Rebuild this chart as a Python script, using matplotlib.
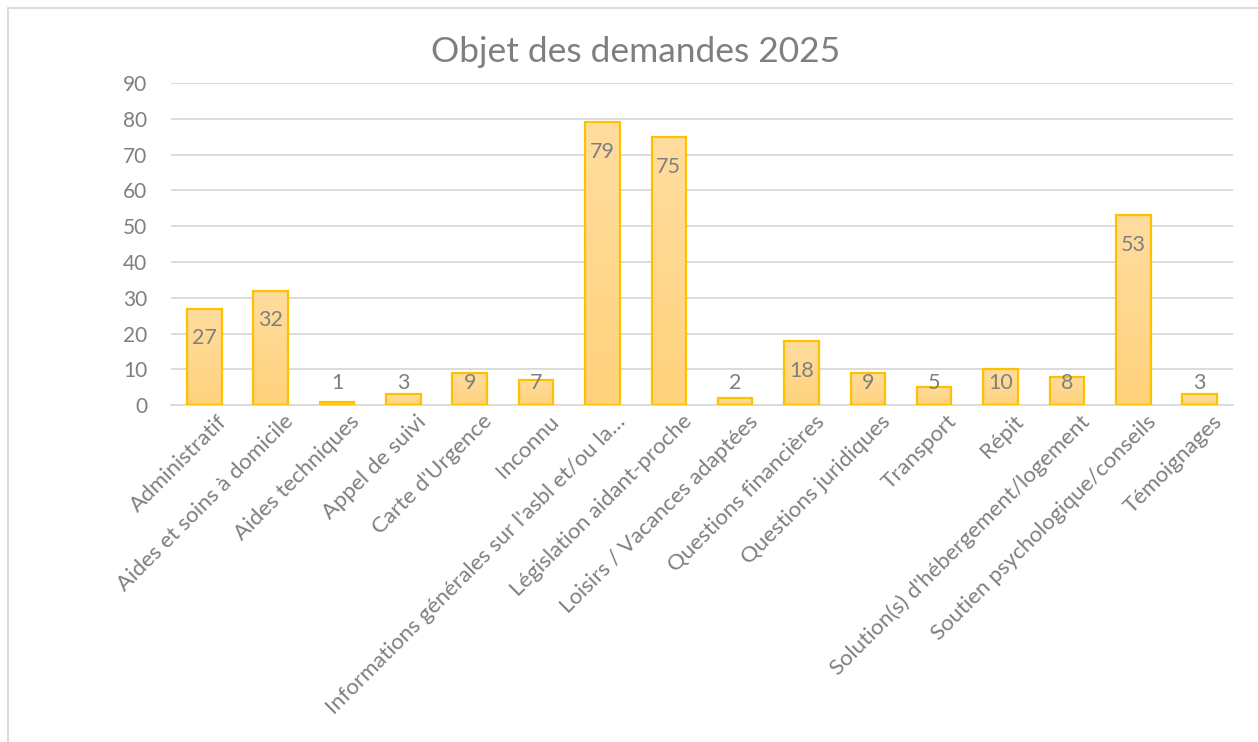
import numpy as np
import matplotlib
matplotlib.use("Agg")
from matplotlib import pyplot as plt
from matplotlib.patches import Rectangle
from matplotlib.colors import LinearSegmentedColormap
import matplotlib.transforms as mtransforms

categories = [
    "Administratif", "Aides et soins à domicile", "Aides techniques",
    "Appel de suivi", "Carte d'Urgence", "Inconnu",
    "Informations générales sur l'asbl et/ou la…", "Législation aidant-proche",
    "Loisirs / Vacances adaptées", "Questions financières",
    "Questions juridiques", "Transport", "Répit",
    "Solution(s) d'hébergement/logement", "Soutien psychologique/conseils",
    "Témoignages",
]
values = [27, 32, 1, 3, 9, 7, 79, 75, 2, 18, 9, 5, 10, 8, 53, 3]
yticks = [0, 10, 20, 30, 40, 50, 60, 70, 80, 90]

plt.rcParams['font.family'] = ['Lato', 'DejaVu Sans']
grey = '#7f7f7f'

fig = plt.figure(figsize=(12.58, 7.42), dpi=100)
ax = fig.add_axes([0.136, 0.454, 0.844, 0.434])

x = np.arange(len(categories))
bars = ax.bar(x, values, width=0.52, color='none', edgecolor='#ffc000',
              linewidth=1.6, zorder=3)

# degradé léger dans chaque barre
cmap = LinearSegmentedColormap.from_list('g', ['#ffd27c', '#ffdd9f'])
grad = np.linspace(0, 1, 100).reshape(-1, 1)
for b in bars:
    im = ax.imshow(grad, cmap=cmap, origin='lower', aspect='auto',
                   extent=[b.get_x(), b.get_x() + b.get_width(), 0, b.get_height()],
                   zorder=2)
    im.set_clip_path(b)

ax.set_xlim(-0.5, len(categories) - 0.5)
ax.set_ylim(0, 90)
ax.set_yticks(yticks)
ax.yaxis.grid(True, color='#d9d9d9', linewidth=1.3, zorder=0)
ax.set_axisbelow(True)
for s in ['top', 'right', 'left']:
    ax.spines[s].set_visible(False)
ax.spines['bottom'].set_color('#d9d9d9')
ax.spines['bottom'].set_linewidth(1.3)
ax.tick_params(axis='both', length=0, labelsize=15, colors=grey)
ax.tick_params(axis='y', pad=17)

ax.set_xticks(x)
ax.set_xticklabels(categories, rotation=45, ha='right', rotation_mode='anchor',
                   fontsize=16)
offset = mtransforms.ScaledTranslation(9 / 72, -1 / 72, fig.dpi_scale_trans)
for lab in ax.get_xticklabels():
    lab.set_transform(lab.get_transform() + offset)

# étiquettes : en haut dans la barre, sinon au-dessus de la base
for xi, v in zip(x, values):
    ax.text(xi, max(v - 10, 4.5), str(v), ha='center', va='baseline',
            fontsize=15.5, color=grey, zorder=4)

fig.suptitle("Objet des demandes 2025", x=0.505, y=0.952, fontsize=25.5,
             color=grey)

fig.patches.append(Rectangle((8 / 1258, -0.02), 1.1, (734 / 742) + 0.02,
                             transform=fig.transFigure, fill=False,
                             edgecolor='#d9d9d9', linewidth=1.3))

fig.savefig("out.png", dpi=100)
